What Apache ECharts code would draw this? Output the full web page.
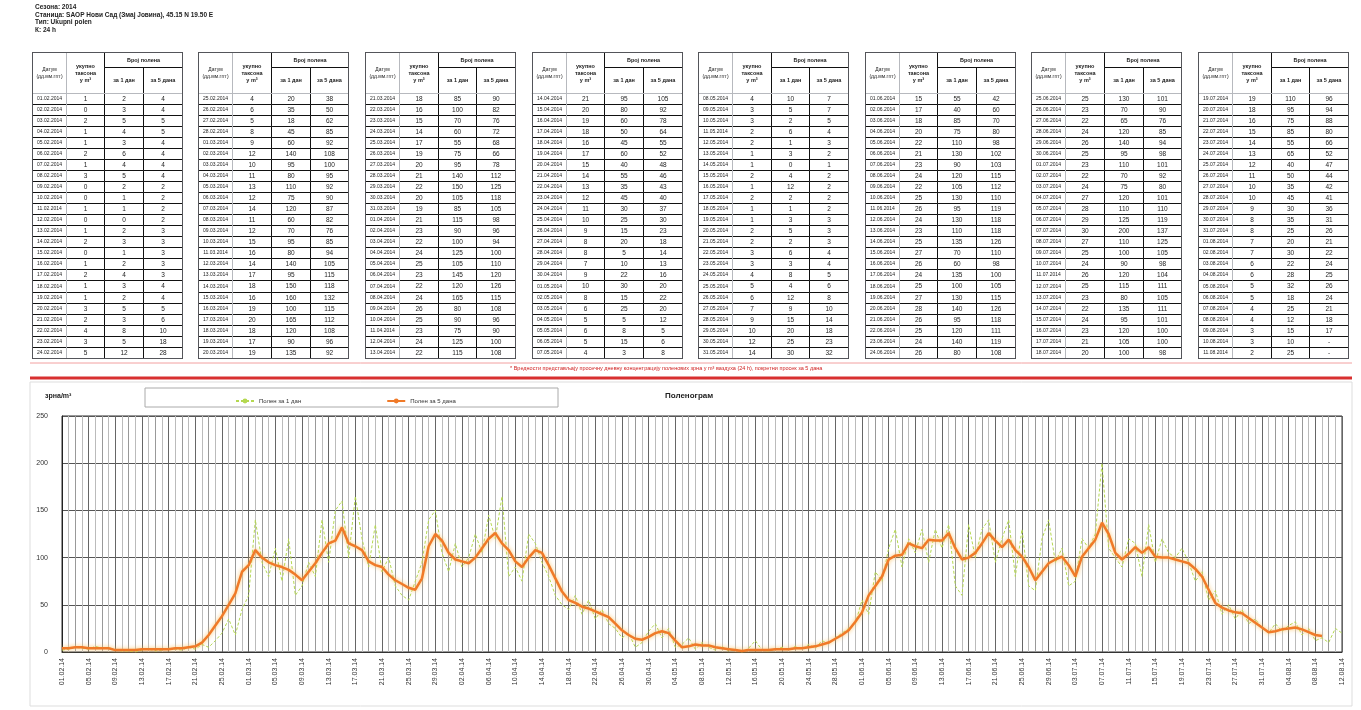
<!DOCTYPE html>
<html><head><meta charset="utf-8">
<script src="https://cdn.jsdelivr.net/npm/echarts@6/dist/echarts.min.js"></script>
<style>html,body{margin:0;padding:0;background:#fff}#c{width:1361px;height:710px}</style>
</head><body><div id="c"></div>
<script>
// ---- data ----
const START_YEAR = 2014, START_MONTH = 1, START_DAY = 1; // 01.02.2014
const DAYS = 193;
const ROWS_PER_TABLE = 24;
const TABLES = 8;
const yTicks = [0, 50, 100, 150, 200, 250];

// daily pollen (thin green)
const daily = [2,3,5,4,3,6,4,5,2,1,1,0,2,3,1,2,4,3,2,5,
3,8,5,12,20,35,18,45,60,140,
95,80,110,75,120,60,70,95,80,140,
95,150,160,100,165,120,90,135,85,100,
70,60,55,75,95,140,150,105,85,115,
90,100,125,105,145,120,165,80,90,75,
125,115,95,80,60,50,45,60,40,55,
35,45,30,25,15,20,5,10,22,30,
15,25,5,8,15,3,10,5,2,6,
1,3,0,4,12,2,1,3,5,2,
6,3,8,4,12,9,15,20,25,30,
55,40,85,75,110,130,90,120,105,130,
95,130,110,135,70,60,135,100,130,140,
95,120,140,80,130,70,65,120,140,95,
110,70,75,120,110,125,200,110,100,90,
120,115,80,135,95,120,105,100,110,95,
75,85,55,65,40,50,35,45,30,35,
25,20,30,22,28,32,18,25,12,15,
10,25,20];

// 5-day average (thick orange)
const avg5 = [4,4,5,5,4,4,4,4,2,2,
2,2,3,3,3,3,3,4,4,5,
6,10,18,28,38,50,62,85,92,108,
100,95,92,90,87,82,76,85,94,105,
115,118,132,115,112,108,96,92,90,82,
76,72,68,66,78,112,125,118,105,98,
96,94,100,110,120,126,115,108,96,90,
100,108,105,92,78,64,55,52,48,46,
43,40,37,30,23,18,14,13,16,20,
22,20,12,5,6,8,7,7,5,4,
3,2,1,2,2,2,2,3,3,3,
4,4,5,6,8,10,14,18,23,32,
42,60,70,80,98,102,103,115,112,110,
119,118,118,126,110,98,100,105,115,126,
118,111,119,108,101,90,76,85,94,98,
101,92,80,101,110,119,137,125,105,98,
104,111,105,111,101,100,100,98,96,94,
88,80,66,52,47,44,42,41,36,31,
26,21,22,24,25,26,24,21,18,17,
null,null,null];

// number of taxa per day (table column 2)
const taxa = [1,0,2,1,1,2,1,3,0,0,1,0,1,2,0,1,2,1,1,3,2,4,3,5,
4,6,5,8,9,12,10,11,13,12,14,11,12,15,16,14,17,18,16,19,20,18,17,19,
18,16,15,14,17,19,20,21,22,20,19,21,23,22,24,25,23,22,24,26,25,23,24,22,
21,20,19,18,16,17,15,14,13,12,11,10,9,8,8,7,9,10,8,6,5,6,5,4,
4,3,3,2,2,1,1,2,1,2,1,1,2,2,3,3,4,5,6,7,9,10,12,14,
15,17,18,20,22,21,23,24,22,25,26,24,23,25,27,26,24,25,27,28,26,25,24,26,
25,23,22,24,26,25,23,22,24,27,28,29,30,27,25,24,26,25,23,22,24,23,21,20,
19,18,16,15,14,13,12,11,10,10,9,8,8,7,7,6,6,5,5,4,4,3,3,2];

const headerLines = ['Сезона: 2014', 'Станица: SAOP Нови Сад (Змај Јовина), 45.15 N 19.50 E', 'Тип: Ukupni polen', 'К: 24 h'];
const colHeaders = ['укупно\nтаксона\nу m³', 'Број полена', 'за 1 дан', 'за 5 дана'];
const cornerHeader = 'Датум\n(дд.мм.гггг)';
const legendNames = ['Полен за 1 дан', 'Полен за 5 дана'];
const noteText = '* Вредности представљају просечну дневну концентрацију поленових зрна у m³ ваздуха (24 h), покретни просек за 5 дана';

// ---- build ----
function pad(n){return (n<10?'0':'')+n;}
const dateFull = [], dateShort = [];
for (let i = 0; i < DAYS; i++) {
  const d = new Date(Date.UTC(START_YEAR, START_MONTH, START_DAY + i));
  const dd = pad(d.getUTCDate()), mm = pad(d.getUTCMonth()+1), yy = d.getUTCFullYear();
  dateFull.push(dd+'.'+mm+'.'+yy);
  dateShort.push(dd+'.'+mm+'.'+String(yy).slice(2));
}

const FONT = 'Liberation Sans';
const cellStyle = {borderColor: '#111', borderWidth: 1, color: '#fff'};
const matrices = [];
for (let k = 0; k < TABLES; k++) {
  const rows = [];
  const body = [];
  for (let r = 0; r < ROWS_PER_TABLE; r++) {
    const i = k*ROWS_PER_TABLE + r;
    rows.push(dateFull[i]);
    const vals = [taxa[i], daily[i], avg5[i] == null ? '-' : avg5[i]];
    for (let c = 0; c < 3; c++) body.push({coord: [c, r], value: String(vals[c])});
  }
  matrices.push({
    left: 32 + k*166.6, top: 52, width: 150, height: 306,
    x: {
      data: [{value: colHeaders[0]}, {value: colHeaders[1], children: [{value: colHeaders[2]}, {value: colHeaders[3]}]}],
      levels: [{levelSize: 15}, {levelSize: 26}],
      label: {fontSize: 5.5, fontFamily: FONT, color: '#222', fontWeight: 'bold', overflow: 'none', lineHeight: 7},
      itemStyle: cellStyle
    },
    y: {
      data: rows,
      levelSize: 34,
      label: {fontSize: 5, fontFamily: FONT, color: '#222', overflow: 'none'},
      itemStyle: cellStyle
    },
    body: {
      data: body,
      label: {fontSize: 6.5, fontFamily: FONT, color: '#222', overflow: 'none'},
      itemStyle: cellStyle
    },
    corner: {
      data: [{coord: [-1, [-2, -1]], mergeCells: true, value: cornerHeader}],
      label: {fontSize: 5, fontFamily: FONT, color: '#222', overflow: 'none', lineHeight: 7},
      itemStyle: cellStyle
    }
  });
}

const graphic = [];
headerLines.forEach((t, j) => graphic.push({type: 'text', left: 35, top: 4 + j*7.5,
  style: {text: t, font: 'bold 6.5px ' + FONT, fill: '#222'}}));
graphic.push({type: 'line', shape: {x1: 30, y1: 363, x2: 1352, y2: 363}, style: {stroke: '#f2a0a0', lineWidth: 1}});
graphic.push({type: 'text', left: 510, top: 365, style: {text: noteText, font: '5.5px ' + FONT, fill: '#d02020'}});
graphic.push({type: 'line', shape: {x1: 30, y1: 378, x2: 1352, y2: 378}, style: {stroke: '#d83030', lineWidth: 3}});
graphic.push({type: 'rect', shape: {x: 30, y: 382, width: 1322, height: 324}, style: {fill: 'none', stroke: '#ddd', lineWidth: 1}, z: -1});
graphic.push({type: 'rect', shape: {x: 145, y: 388, width: 413, height: 19}, style: {fill: '#fff', stroke: '#aaa', lineWidth: 1}, z: -1});
graphic.push({type: 'text', left: 45, top: 393, style: {text: 'зрна/m³', font: 'bold 7px ' + FONT, fill: '#222'}});
graphic.push({type: 'text', left: 665, top: 392, style: {text: 'Поленограм', font: 'bold 8px ' + FONT, fill: '#222'}});

const option = {
  backgroundColor: '#fff',
  animation: false,
  textStyle: {fontFamily: FONT},
  matrix: matrices,
  graphic: graphic,
  legend: {
    left: 230, top: 393, itemWidth: 18, itemHeight: 6, itemGap: 85,
    textStyle: {fontSize: 6, color: '#333'},
    data: legendNames
  },
  grid: {left: 62, right: 19, top: 416, bottom: 58, show: true, borderColor: '#333', borderWidth: 1},
  xAxis: {
    type: 'category', data: dateShort, boundaryGap: false,
    axisLine: {lineStyle: {color: '#333'}}, axisTick: {show: false},
    axisLabel: {rotate: 90, interval: 3, fontSize: 7, color: '#333', margin: 6},
    splitLine: {show: true, interval: 0, lineStyle: {color: ['#666', '#bbb', '#999', '#bbb'], width: 1}}
  },
  yAxis: {
    type: 'value', min: yTicks[0], max: yTicks[yTicks.length-1], interval: 50,
    axisLine: {show: true, lineStyle: {color: '#222'}}, axisTick: {show: false},
    axisLabel: {fontSize: 7, color: '#333', margin: 14},
    splitLine: {lineStyle: {color: '#555'}}
  },
  series: [
    {name: legendNames[0], type: 'line', data: daily, symbol: 'none', z: 3,
     lineStyle: {color: '#b4d850', width: 1, type: [3, 2]}, itemStyle: {color: '#b4d850'}},
    {name: legendNames[1], type: 'line', data: avg5, symbol: 'none', z: 4,
     lineStyle: {color: '#f07a28', width: 2.5, shadowColor: 'rgba(250,190,90,0.9)', shadowBlur: 4}, itemStyle: {color: '#f07a28'}}
  ]
};
const chart = echarts.init(document.getElementById('c'));
chart.setOption(option);
</script>
</body></html>
